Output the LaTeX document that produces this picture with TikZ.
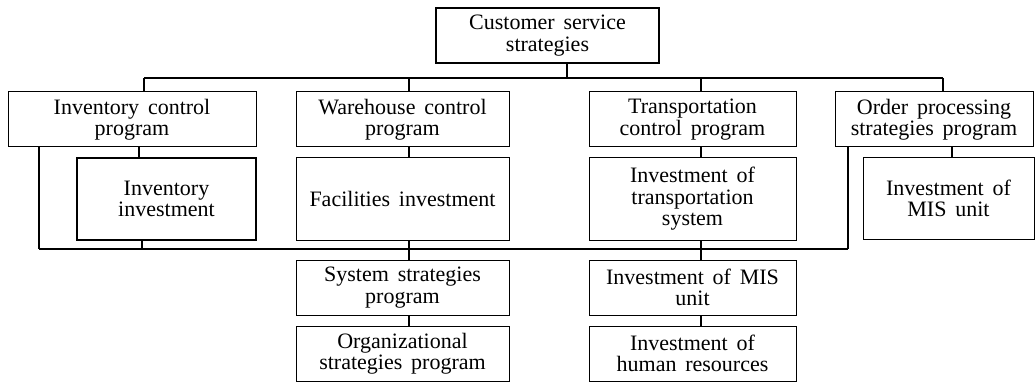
\documentclass[tikz,border=0pt]{standalone}
\usepackage{fontspec}
\setmainfont{Liberation Serif}[WordSpace=1.6]
\begin{document}
\begin{tikzpicture}[x=1pt,y=-1pt,
	box/.style={draw,line width=1pt,align=center,inner sep=0pt,
		font=\fontsize{22}{21.5}\selectfont},
	boldbox/.style={box,line width=2pt},
	link/.style={line width=1.6pt}]
			\useasboundingbox (0,0) rectangle (1035,382);
			% top
			\node[boldbox,minimum width=223,minimum height=55] (top) at (547.5,35.5) {Customer service\\strategies};
			% level 1
			\node[box,minimum width=248,minimum height=55] (inv) at (132,119.5) {Inventory control\\program};
			\node[box,minimum width=213,minimum height=55] (ware) at (402.5,119.5) {Warehouse control\\program};
			\node[box,minimum width=207,minimum height=55] (trans) at (692.5,119.5) {Transportation\\control program};
			\node[box,minimum width=198,minimum height=55] (order) at (934,119.5) {Order processing\\strategies program};
			% level 2
			\node[boldbox,minimum width=179,minimum height=82] (invinv) at (166.5,199) {Inventory\\investment};
			\node[box,minimum width=213,minimum height=82] (fac) at (402.5,199) {Facilities investment};
			\node[box,minimum width=207,minimum height=82] (transinv) at (692.5,199) {Investment of\\transportation\\system};
			\node[box,minimum width=171,minimum height=81] (mis) at (948.5,198.5) {Investment of\\MIS unit};
			% level 3
			\node[box,minimum width=213,minimum height=55] (sys) at (402.5,287.5) {System strategies\\program};
			\node[box,minimum width=213,minimum height=55] (org) at (402.5,353.5) {Organizational\\strategies program};
			\node[box,minimum width=207,minimum height=55] (misunit) at (692.5,287.5) {Investment of MIS\\unit};
			\node[box,minimum width=207,minimum height=55] (hr) at (692.5,353.5) {Investment of\\human resources};
			
			% upper bus
			\coordinate (t0) at (567,78);
			\coordinate (a1) at (144,78);
			\coordinate (a2) at (409,78);
			\coordinate (a3) at (701,78);
			\coordinate (a4) at (943,78);
			\draw[link] (a1) -- (a4);
			\draw[link] (top.south -| t0) -- (t0);
			\foreach \n/\c in {inv/a1,ware/a2,trans/a3,order/a4}
				\draw[link] (\c) -- (\n.north -| \c);
			% level 1 to level 2
			\coordinate (c1) at (139,0);
			\coordinate (c2) at (952,0);
			\draw[link] (inv.south -| c1) -- (invinv.north -| c1);
			\draw[link] (ware.south -| a2) -- (fac.north -| a2);
			\draw[link] (trans.south -| a3) -- (transinv.north -| a3);
			\draw[link] (order.south -| c2) -- (mis.north -| c2);
			% lower bus
			\coordinate (b0) at (39,249);
			\coordinate (b1) at (142,249);
			\coordinate (b2) at (409,249);
			\coordinate (b3) at (701,249);
			\coordinate (b4) at (848,249);
			\draw[link] (b0) -- (b4);
			\draw[link] (inv.south -| b0) -- (b0);
			\draw[link] (order.south -| b4) -- (b4);
			\draw[link] (invinv.south -| b1) -- (b1);
			\draw[link] (fac.south -| b2) -- (sys.north -| b2);
			\draw[link] (transinv.south -| b3) -- (misunit.north -| b3);
			% level 3
			\draw[link] (sys.south -| b2) -- (org.north -| b2);
			\draw[link] (misunit.south -| b3) -- (hr.north -| b3);
\end{tikzpicture}
\end{document}
